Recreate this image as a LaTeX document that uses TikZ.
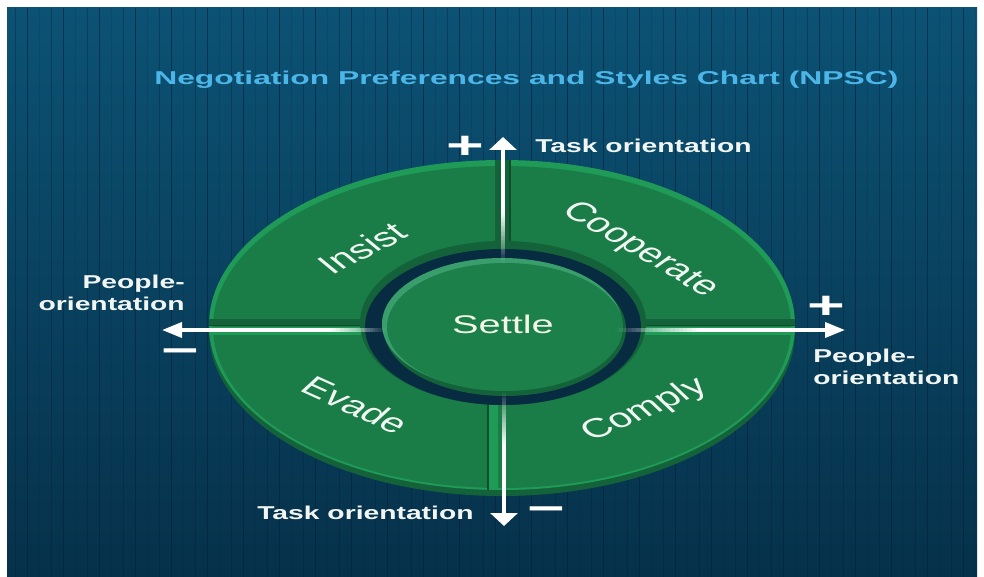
\documentclass[tikz,border=0pt]{standalone}
\usepackage{fontspec}
\setmainfont{Liberation Sans}
\usetikzlibrary{arrows.meta,calc,shapes.geometric}

\definecolor{bgtop}{HTML}{0C5274}
\definecolor{bgbot}{HTML}{06314A}
\definecolor{stripe}{HTML}{03243A}
\definecolor{titleblue}{HTML}{4DB6E8}
\definecolor{ringface}{HTML}{1A7D48}
\definecolor{ringrim}{HTML}{1F9A57}
\definecolor{ringside}{HTML}{13623A}
\definecolor{ringdark}{HTML}{0F4E2C}
\definecolor{holenavy}{HTML}{072B40}
\definecolor{settleface}{HTML}{1B804A}
\definecolor{settlerim}{HTML}{3A9E6C}
\definecolor{txtwhite}{HTML}{F2F6F2}
\definecolor{settletxt}{HTML}{F4F6E8}

\tikzset{
  lbl/.style={font=\bfseries\fontsize{18.6}{21.5}\selectfont, text=txtwhite, inner sep=0pt, xscale=1.52},
  seg/.style={font=\fontsize{27}{30}\selectfont, text=txtwhite, inner sep=0pt, xscale=1.55},
  sign/.style={font=\bfseries\fontsize{38}{40}\selectfont, text=white, inner sep=0pt, xscale=1.7},
  shaft/.style={white, line width=3.6pt},
  vtip/.style={-{Triangle[length=13pt, width=27pt]}},
  htip/.style={-{Triangle[length=20pt, width=15pt]}}
}

\newcommand\fadeshaft[2]{%
  \foreach \k in {0,...,19}{%
    \pgfmathsetmacro\ta{\k/20}%
    \pgfmathsetmacro\tb{(\k+1)/20}%
    \pgfmathsetmacro\op{(\k+0.5)/20}%
    \draw[shaft, opacity=\op] ($(#1)!\ta!(#2)$) -- ($(#1)!\tb!(#2)$);
  }%
}

\begin{document}
\begin{tikzpicture}[x=1pt,y=-1pt]
\useasboundingbox (0,0) rectangle (984,577);
\fill[white] (0,0) rectangle (984,577);
% background panel
\shade[top color=bgtop, bottom color=bgbot] (7,8) rectangle (977,577);
\foreach \x [count=\i] in {15,27,...,975}{
  \pgfmathsetmacro\sop{0.15+0.25*mod(\i,3)}
  \draw[stripe, opacity=\sop, line width=1pt] (\x,8) -- (\x,577);
}

% title
\node[font=\bfseries\fontsize{18.6}{22}\selectfont, text=titleblue, inner sep=0pt, xscale=1.71, anchor=base west] (title) at (154,85) {Negotiation Preferences and Styles Chart (NPSC)};

% ring: side, rim, face
\fill[ringside] (502,331) ellipse [x radius=293, y radius=165];
\fill[ringrim] (502,325) ellipse [x radius=293, y radius=165];
\fill[ringface] (502,327) ellipse [x radius=289, y radius=161];

% quadrant dividers
\begin{scope}
  \clip (502,325) ellipse [x radius=293, y radius=165];
  \fill[ringside] (200,319) rectangle (810,325);
  \draw[ringdark, line width=1.5pt] (200,325.5) -- (810,325.5);
  \fill[ringrim] (200,327) rectangle (810,335);
  \fill[ringside] (495,150) rectangle (510,320);
  \draw[ringdark, line width=1.5pt] (510,150) -- (510,319);
  \fill[ringrim] (489,335) rectangle (498,505);
  \draw[ringdark, line width=1.5pt] (488,335) -- (488,505);
\end{scope}

% inner wall and hole
\fill[ringside] (503,323) ellipse [x radius=143, y radius=82];
\fill[holenavy] (503,327) ellipse [x radius=138, y radius=78];

% settle disk
\fill[ringside] (505,329) ellipse [x radius=121, y radius=67];
\fill[settlerim] (502,324) ellipse [x radius=120, y radius=66];
\node[ellipse, fill=settleface, minimum width=236pt, minimum height=128pt, inner sep=0pt] (disk) at (505,327) {};

% axis arrows
\coordinate (upS) at ($(disk.north)+(-2,0)$);
\coordinate (upF) at (503,212);
\coordinate (upT) at (503,137);
\coordinate (dnS) at ($(disk.south)+(-1,0)$);
\coordinate (dnF) at (504,445);
\coordinate (dnT) at (504,526);
\coordinate (lfS) at ($(disk.west)+(0,3)$);
\coordinate (lfF) at (330,330);
\coordinate (lfT) at (162,330);
\coordinate (rtS) at ($(disk.east)+(-8,3)$);
\coordinate (rtF) at (700,330);
\coordinate (rtT) at (845,330);

\fadeshaft{upS}{upF}
\draw[shaft, vtip] (upF) -- (upT);
\fadeshaft{dnS}{dnF}
\draw[shaft, vtip] (dnF) -- (dnT);
\fadeshaft{lfS}{lfF}
\draw[shaft, htip] (lfF) -- (lfT);
\fadeshaft{rtS}{rtF}
\draw[shaft, htip] (rtF) -- (rtT);

% quadrant labels
\node[seg, rotate=38] (insist) at (362,248) {Insist};
\node[seg, rotate=-42] (coop) at (640,250) {Cooperate};
\node[seg, rotate=-35] (evade) at (356,405) {Evade};
\node[seg, rotate=34] (comply) at (645,410) {Comply};
\node[font=\fontsize{25.5}{28}\selectfont, text=settletxt, inner sep=0pt, xscale=1.56] (settle) at (503,324) {Settle};

% axis labels
\node[lbl, anchor=base west] (taskup) at (535,153) {Task orientation};
\node[lbl, anchor=base west] (taskdn) at (257,519) {Task orientation};
\node[lbl, anchor=north east, align=right] (peopleL) at (185,275) {People-\\orientation};
\node[lbl, anchor=north west, align=left] (peopleR) at (813,349) {People-\\orientation};

% signs
\node[sign] (plusup) at (465,147) {+};
\node[sign] (plusrt) at (826,307) {+};
\node[sign] (minlf) at (180,356.5) {−};
\node[sign] (mindn) at (546.5,514) {−};
\end{tikzpicture}
\end{document}
